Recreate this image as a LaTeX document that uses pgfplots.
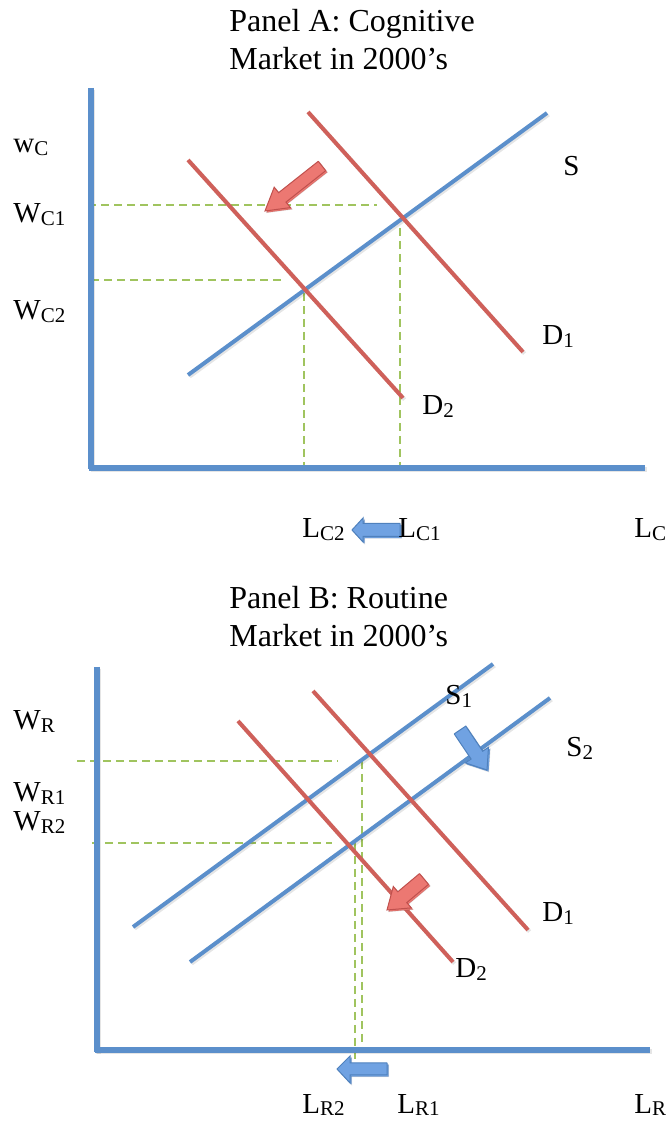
\documentclass[border=0pt]{standalone}
\usepackage{fontspec}
\setmainfont{Liberation Serif}
\usepackage{pgfplots}
\pgfplotsset{compat=1.18}

\definecolor{lineblue}{RGB}{91,143,203}
\definecolor{linered}{RGB}{207,96,90}
\definecolor{guidegreen}{RGB}{160,196,95}
\definecolor{arrowred}{RGB}{236,120,114}
\definecolor{arrowrededge}{RGB}{192,80,77}
\definecolor{arrowblue}{RGB}{112,162,226}
\definecolor{arrowblueedge}{RGB}{79,129,189}

% label with a small lowered subscript
\newcommand{\sub}[2]{#1\raisebox{-1.2pt}{\fontsize{10.5}{12}\selectfont #2}}

\tikzset{
  axisline/.style={draw=lineblue, line width=2.8pt},
  curve/.style={line width=2pt},
  guide/.style={draw=guidegreen, line width=0.8pt, dash pattern=on 4pt off 2.5pt},
  shadow/.style={preaction={draw=black, draw opacity=0.1,
      transform canvas={xshift=0.8pt, yshift=-0.8pt}}},
  lab/.style={anchor=base west, font=\fontsize{14.5}{17}\selectfont, inner sep=0pt},
  ttl/.style={anchor=base west, font=\fontsize{16}{19}\selectfont, inner sep=0pt},
}

\begin{document}
\begin{tikzpicture}
\begin{axis}[
  width=335pt, height=562pt, scale only axis,
  xmin=0, xmax=670, ymin=-1124, ymax=0,
  hide axis, clip=false,
]
% page frame (invisible)
\addplot[draw=none] coordinates {(0,0) (670,-1124)};

% ---------------- Panel A ----------------
\addplot[guide] coordinates {(88,-205) (377,-205)};
\addplot[guide] coordinates {(91,-280) (282,-280)};
\addplot[guide] coordinates {(304,-293) (304,-468)};
\addplot[guide] coordinates {(400,-228) (400,-471)};

\addplot[axisline, shadow] coordinates {(91,-88) (91,-469)};
\addplot[axisline, shadow] coordinates {(89,-468) (645,-468)};

\addplot[curve, lineblue, shadow] coordinates {(188,-375) (547,-113)};
\addplot[curve, linered, shadow] coordinates {(308,-112) (523,-352)};
\addplot[curve, linered, shadow] coordinates {(188,-160) (403,-398)};

% shift arrows
\addplot[fill=arrowred, draw=arrowrededge, line width=0.5pt, shadow] coordinates {
  (318.3,-161.3) (278.6,-192.7) (274.2,-187.2) (265,-211) (290.4,-207.6) (286.0,-202.1) (325.7,-170.7) (318.3,-161.3)};
\addplot[fill=arrowblue, draw=arrowblueedge, line width=0.5pt, shadow] coordinates {
  (400,-523.5) (363,-523.5) (363,-518) (352,-530) (363,-542) (363,-536.5) (400,-536.5) (400,-523.5)};

\node[ttl] at (axis cs:229,-32) {Panel A: Cognitive};
\node[ttl] at (axis cs:229,-70) {Market in 2000’s};
\node[lab] at (axis cs:13,-153) {\sub{w}{C}};
\node[lab] at (axis cs:13,-223) {\sub{W}{C1}};
\node[lab] at (axis cs:13,-320) {\sub{W}{C2}};
\node[lab] at (axis cs:563,-176) {S};
\node[lab] at (axis cs:542,-345) {\sub{D}{1}};
\node[lab] at (axis cs:422,-415) {\sub{D}{2}};
\node[lab] at (axis cs:302,-538) {\sub{L}{C2}};
\node[lab] at (axis cs:398,-538) {\sub{L}{C1}};
\node[lab] at (axis cs:634,-538) {\sub{L}{C}};

% ---------------- Panel B ----------------
\addplot[guide] coordinates {(77,-761) (338,-761)};
\addplot[guide] coordinates {(92,-843) (332,-843)};
\addplot[guide] coordinates {(362,-761) (362,-1052)};
\addplot[guide] coordinates {(355,-843) (355,-1060)};

\addplot[axisline, shadow] coordinates {(97,-667) (97,-1052)};
\addplot[axisline, shadow] coordinates {(95,-1050) (650,-1050)};

\addplot[curve, lineblue, shadow] coordinates {(133,-927) (493,-664)};
\addplot[curve, lineblue, shadow] coordinates {(190,-962) (550,-698)};
\addplot[curve, linered, shadow] coordinates {(313,-691) (528,-930)};
\addplot[curve, linered, shadow] coordinates {(238,-721) (453,-962)};

\addplot[fill=arrowblue, draw=arrowblueedge, line width=0.5pt, shadow] coordinates {
  (454.2,-733.9) (471.1,-759.0) (465.3,-762.9) (487,-770) (488.5,-747.3) (482.7,-751.2) (465.8,-726.1) (454.2,-733.9)};
\addplot[fill=arrowred, draw=arrowrededge, line width=0.5pt, shadow] coordinates {
  (419.5,-873.6) (397.8,-891.8) (393.3,-886.5) (387,-910) (411.3,-907.9) (406.8,-902.6) (428.5,-884.4) (419.5,-873.6)};
\addplot[fill=arrowblue, draw=arrowblueedge, line width=0.5pt, shadow] coordinates {
  (387,-1063) (350,-1063) (350,-1056) (337,-1069) (350,-1083) (350,-1075) (387,-1075) (387,-1063)};

\node[ttl] at (axis cs:229,-609) {Panel B: Routine};
\node[ttl] at (axis cs:229,-647) {Market in 2000’s};
\node[lab] at (axis cs:13,-730) {\sub{W}{R}};
\node[lab] at (axis cs:13,-802) {\sub{W}{R1}};
\node[lab] at (axis cs:13,-831) {\sub{W}{R2}};
\node[lab] at (axis cs:445,-705) {\sub{S}{1}};
\node[lab] at (axis cs:566,-757) {\sub{S}{2}};
\node[lab] at (axis cs:542,-922) {\sub{D}{1}};
\node[lab] at (axis cs:455,-978) {\sub{D}{2}};
\node[lab] at (axis cs:302,-1113) {\sub{L}{R2}};
\node[lab] at (axis cs:397,-1113) {\sub{L}{R1}};
\node[lab] at (axis cs:634,-1113) {\sub{L}{R}};
\end{axis}
\end{tikzpicture}
\end{document}
